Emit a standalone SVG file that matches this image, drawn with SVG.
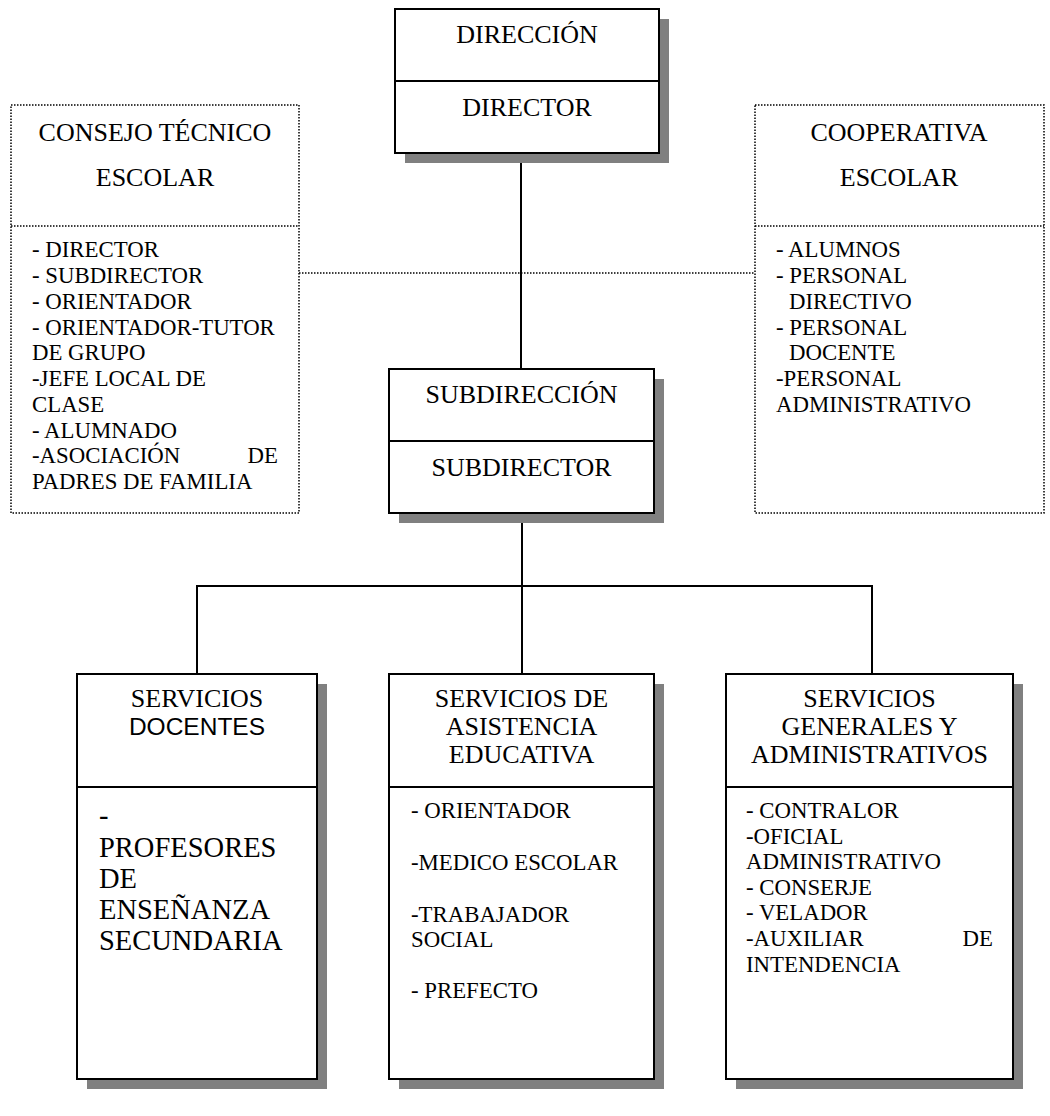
<svg xmlns="http://www.w3.org/2000/svg" width="1050" height="1116" viewBox="0 0 1050 1116">
<style>
.box{fill:#fff;stroke:#000;stroke-width:2}
.shadow{fill:#808080}
.dbox{fill:#fff;stroke:#000;stroke-width:1.5;stroke-dasharray:1.5 1.5}
.div{stroke:#000;stroke-width:2}
.ddiv{stroke:#000;stroke-width:1.5;stroke-dasharray:1.5 1.5}
.t{font-family:"Liberation Serif","Times New Roman",serif;font-size:26px;fill:#000;text-anchor:middle}
.l{font-family:"Liberation Serif","Times New Roman",serif;font-size:22.8px;fill:#000}
.big{font-family:"Liberation Serif","Times New Roman",serif;font-size:28.5px;fill:#000}
.sans{font-family:"Liberation Sans",Arial,sans-serif;font-size:24.5px;fill:#000;text-anchor:middle}
.c{stroke:#000;stroke-width:2;fill:none}
.dc{stroke:#000;stroke-width:1.5;stroke-dasharray:1.5 1.5;fill:none}
</style>
<g id="connectors">
<line class="c" x1="521" y1="153" x2="521" y2="369"/>
<line class="c" x1="522" y1="513" x2="522" y2="674"/>
<polyline class="c" points="197,674 197,586 872,586 872,674"/>
<line class="dc" x1="299" y1="273" x2="755" y2="273"/>
</g>
<g id="direccion">
<rect class="shadow" x="405" y="19" width="264" height="144"/>
<rect class="box" x="395" y="9" width="264" height="144"/>
<line class="div" x1="395" y1="81" x2="659" y2="81"/>
<text class="t" x="527" y="43">DIRECCIÓN</text>
<text class="t" x="527" y="116">DIRECTOR</text>
</g>
<g id="consejo">
<rect class="dbox" x="11" y="105" width="288" height="408"/>
<line class="ddiv" x1="11" y1="226" x2="299" y2="226"/>
<text class="t" x="155" y="141">CONSEJO TÉCNICO</text>
<text class="t" x="155" y="186">ESCOLAR</text>
<text class="l" x="32" y="257">- DIRECTOR</text>
<text class="l" x="32" y="283">- SUBDIRECTOR</text>
<text class="l" x="32" y="309">- ORIENTADOR</text>
<text class="l" x="32" y="335">- ORIENTADOR-TUTOR</text>
<text class="l" x="32" y="360">DE GRUPO</text>
<text class="l" x="32" y="386">-JEFE LOCAL DE</text>
<text class="l" x="32" y="412">CLASE</text>
<text class="l" x="32" y="438">- ALUMNADO</text>
<text class="l" x="32" y="463">-ASOCIACIÓN</text>
<text class="l" x="278" y="463" text-anchor="end">DE</text>
<text class="l" x="32" y="489">PADRES DE FAMILIA</text>
</g>
<g id="cooperativa">
<rect class="dbox" x="755" y="105" width="289" height="408"/>
<line class="ddiv" x1="755" y1="226" x2="1044" y2="226"/>
<text class="t" x="899" y="141">COOPERATIVA</text>
<text class="t" x="899" y="186">ESCOLAR</text>
<text class="l" x="776" y="257">- ALUMNOS</text>
<text class="l" x="776" y="283">- PERSONAL</text>
<text class="l" x="789" y="309">DIRECTIVO</text>
<text class="l" x="776" y="335">- PERSONAL</text>
<text class="l" x="789" y="360">DOCENTE</text>
<text class="l" x="776" y="386">-PERSONAL</text>
<text class="l" x="776" y="412">ADMINISTRATIVO</text>
</g>
<g id="subdireccion">
<rect class="shadow" x="399" y="379" width="265" height="144"/>
<rect class="box" x="389" y="369" width="265" height="144"/>
<line class="div" x1="389" y1="441" x2="654" y2="441"/>
<text class="t" x="521.5" y="403">SUBDIRECCIÓN</text>
<text class="t" x="521.5" y="476">SUBDIRECTOR</text>
</g>
<g id="docentes">
<rect class="shadow" x="87" y="684" width="240" height="405"/>
<rect class="box" x="77" y="674" width="240" height="405"/>
<line class="div" x1="77" y1="787" x2="317" y2="787"/>
<text class="t" x="197" y="707">SERVICIOS</text>
<text class="sans" x="197" y="735">DOCENTES</text>
<text class="big" x="99" y="825">-</text>
<text class="big" x="99" y="857">PROFESORES</text>
<text class="big" x="99" y="888">DE</text>
<text class="big" x="99" y="919">ENSEÑANZA</text>
<text class="big" x="99" y="950">SECUNDARIA</text>
</g>
<g id="asistencia">
<rect class="shadow" x="399" y="684" width="265" height="405"/>
<rect class="box" x="389" y="674" width="265" height="405"/>
<line class="div" x1="389" y1="787" x2="654" y2="787"/>
<text class="t" x="521.5" y="707">SERVICIOS DE</text>
<text class="t" x="521.5" y="735">ASISTENCIA</text>
<text class="t" x="521.5" y="763">EDUCATIVA</text>
<text class="l" x="411" y="818">- ORIENTADOR</text>
<text class="l" x="411" y="870">-MEDICO ESCOLAR</text>
<text class="l" x="411" y="922">-TRABAJADOR</text>
<text class="l" x="411" y="947">SOCIAL</text>
<text class="l" x="411" y="998">- PREFECTO</text>
</g>
<g id="generales">
<rect class="shadow" x="736" y="684" width="287" height="405"/>
<rect class="box" x="726" y="674" width="287" height="405"/>
<line class="div" x1="726" y1="787" x2="1013" y2="787"/>
<text class="t" x="869.5" y="707">SERVICIOS</text>
<text class="t" x="869.5" y="735">GENERALES Y</text>
<text class="t" x="869.5" y="763">ADMINISTRATIVOS</text>
<text class="l" x="746" y="818">- CONTRALOR</text>
<text class="l" x="746" y="844">-OFICIAL</text>
<text class="l" x="746" y="869">ADMINISTRATIVO</text>
<text class="l" x="746" y="895">- CONSERJE</text>
<text class="l" x="746" y="920">- VELADOR</text>
<text class="l" x="746" y="946">-AUXILIAR</text>
<text class="l" x="993" y="946" text-anchor="end">DE</text>
<text class="l" x="746" y="972">INTENDENCIA</text>
</g>
</svg>
